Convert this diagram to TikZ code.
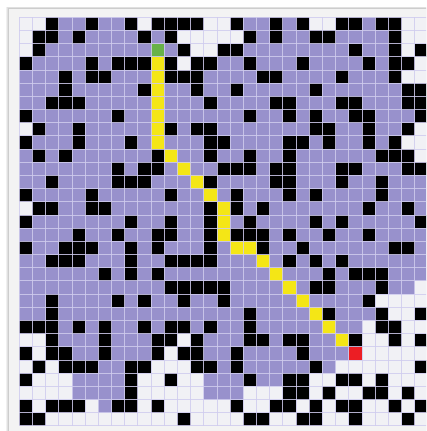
\documentclass[tikz,border=0pt]{standalone}
\definecolor{cP}{RGB}{152,145,204}
\definecolor{cW}{RGB}{241,241,245}
\definecolor{cK}{RGB}{0,0,0}
\definecolor{cY}{RGB}{244,230,22}
\definecolor{cG}{RGB}{104,178,72}
\definecolor{cR}{RGB}{236,30,36}
\definecolor{gline}{RGB}{208,204,238}
\definecolor{framebg}{RGB}{243,243,243}
\definecolor{frameln}{RGB}{205,205,205}
\tikzset{
  cellW/.style={fill=cW}, cellP/.style={fill=cP}, cellK/.style={fill=cK},
  cellY/.style={fill=cY}, cellG/.style={fill=cG}, cellR/.style={fill=cR},
  gridline/.style={draw=gline, line width=0.9pt, opacity=0.85}
}
\newcount\gcolno
\newcount\growno
\def\gridrow#1#2{\growno=#1\relax\gcolno=0\relax\gscan#2\relax}
\def\gscan#1{\ifx#1\relax\else\fill[cell#1] (\the\gcolno,\the\growno) rectangle ++(1,1);\advance\gcolno by 1\relax\expandafter\gscan\fi}
\begin{document}
\begin{tikzpicture}[x=1pt,y=-1pt]
\useasboundingbox (0,0) rectangle (426,431);
\clip (0,0) rectangle (426,431);
\fill[white] (0,0) rectangle (426,431);
% frame with soft shadow
\fill[black!6] (5.5,6.5) rectangle (445,445);
\fill[black!12] (6.8,7.4) rectangle (445,445);
\filldraw[fill=framebg, draw=frameln, line width=0.6pt] (8,8) rectangle (445,445);
\begin{scope}[shift={(19.3,17.3)}, x=13.18pt, y=-13.18pt]
\gridrow{0}{WWKPPKPPKW KKKKWWKPPK PKWWKKPKKWW}
\gridrow{1}{WKKPKPPPPK PKWWWWWKPK PPKKPPPPKWW}
\gridrow{2}{WKPPPPPPPP GPKWWKKPPP PPPPPKPPKWK}
\gridrow{3}{KPPPPKPKKK YKWKKPPKPP PKPPPPKPKKW}
\gridrow{4}{PPPKPKKPPP YKKKPPPPKK PPPPKPPPKWW}
\gridrow{5}{PPPKPPPPPK YPPKPPKPPP PPKPPPPPPKK}
\gridrow{6}{PPKKKPPPPP YPPPKPPPPK KPPPKKPPPKK}
\gridrow{7}{KPPPPPPKPP YPPPPPPKPP KPKPPKKPPPK}
\gridrow{8}{WKPPKPPPPP YKPKKPPPPP PPKKPPKPPKW}
\gridrow{9}{KPPPKPPPKP YPPPKKPPPP KKPKPPKPKWW}
\gridrow{10}{PKPKPPPPPP KYPPKPPKPP KPPPPPPKKKW}
\gridrow{11}{PPPPPPPKPK KPYPPKKKPK KPPPKKPPPKK}
\gridrow{12}{PPKPPPPKKK PPPYKPPPPK KPPPKPPKPPP}
\gridrow{13}{KPPPPKPPPP PKPPYPKPPP KPKPPPPKPPP}
\gridrow{14}{WKKPPKKPPP PPPPKYKPKP PPPPPPKPPKP}
\gridrow{15}{KPPPPPPPKP PKPPKYPKPP PPKPKPPPPPK}
\gridrow{16}{PPPPKPPKPP KKPPKYKKKP KPPKPPKPPPP}
\gridrow{17}{KPPKKKPPKP KPPPKPYYKP PKPPPPPPKKP}
\gridrow{18}{PPKKKPPPKP PKKKKPPPYP KPKPKPPPPPP}
\gridrow{19}{PPPPPPKPKP KPPPPPPPPY PPPKPKKKPPP}
\gridrow{20}{PPPPPPPPPP PKKKKKPPPP YPKKPPPKPPW}
\gridrow{21}{PPKPPPPKPK PPKPPKPPPP PYPPPPKWWWW}
\gridrow{22}{PPKPPPPPPP PPPPPPPKPP PPYKPPPKWWK}
\gridrow{23}{KKKPKPKPPK PKKPKPPKPP PPPYPPWKKWW}
\gridrow{24}{WWKPPPKPPP KKWKPPPKKP KKPPYKWWKWK}
\gridrow{25}{KWKKPPKPPP KWKKPPKPPP PKPPPRWWWWW}
\gridrow{26}{WKWKKKPPKK WWWKKPKPPP PPKPWWWWWWK}
\gridrow{27}{KWWWPPPPKW WKWWPPPKPP KKWWKKWKWWW}
\gridrow{28}{WWWWPPPPKW WWWWPPPWWW KKWKWWKKWKW}
\gridrow{29}{KWKKKWPKKW KWWWWWKWWK KWKWKKWWKWK}
\gridrow{30}{KKWWWWWWWW WWKWWWWKKW WKKWWKWWWKW}
\foreach \i in {0,...,31} {
  \draw[gridline] (\i,0) -- (\i,31);
  \draw[gridline] (0,\i) -- (31,\i);
}
\end{scope}
\end{tikzpicture}
\end{document}
